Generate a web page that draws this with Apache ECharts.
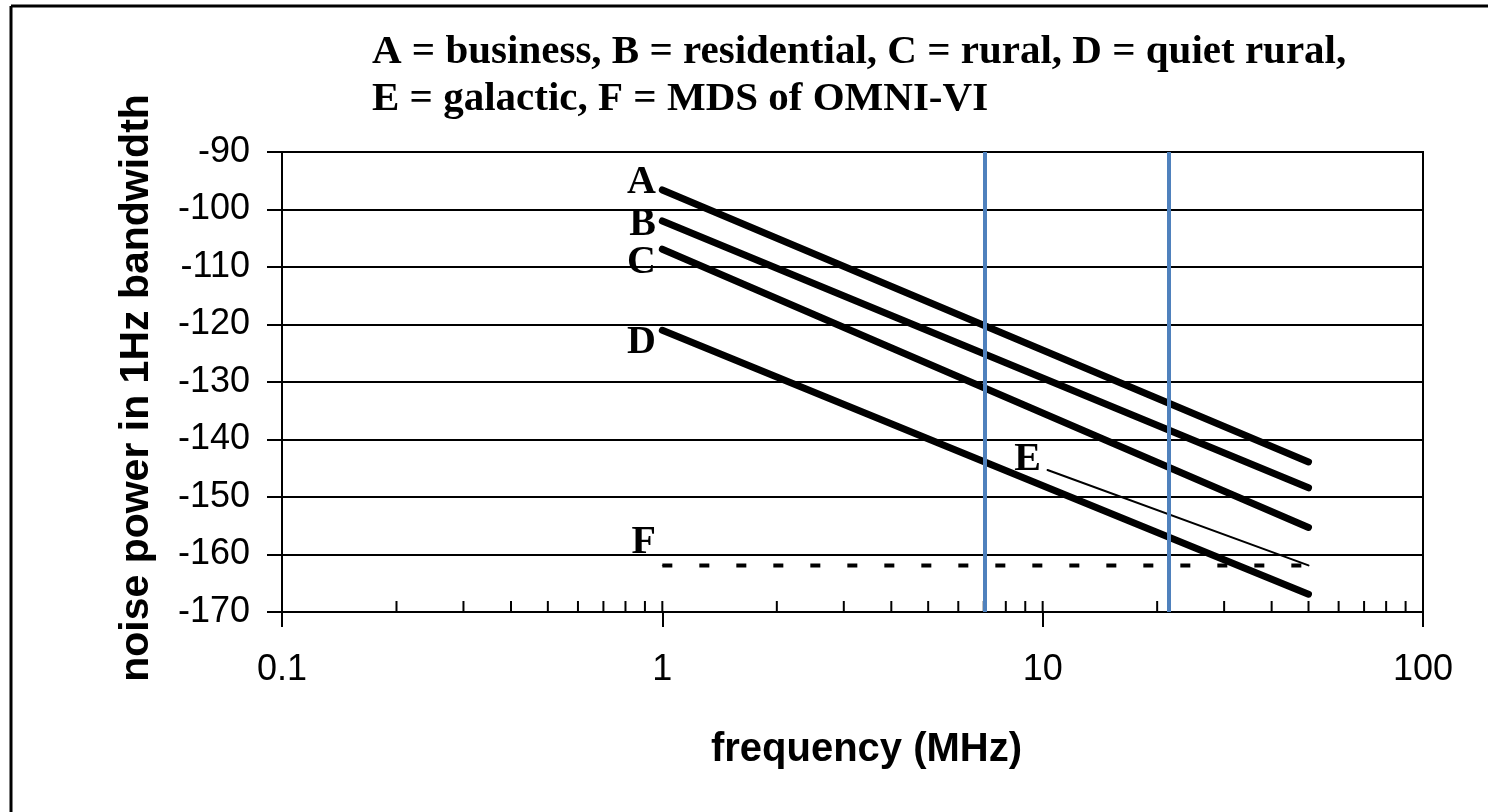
<!DOCTYPE html>
<html>
<head>
<meta charset="utf-8">
<script src="https://cdn.jsdelivr.net/npm/echarts@6/dist/echarts.min.js"></script>
<style>
html,body{margin:0;padding:0;background:#fff;}
#chart{width:1488px;height:812px;}
</style>
</head>
<body>
<div id="chart"></div>
<script>
// ---- data ----
const titleLines = ['A = business, B = residential, C = rural, D = quiet rural,', 'E = galactic, F = MDS of OMNI-VI'];
const xTickLabels = ['0.1', '1', '10', '100'];
const yTickLabels = ['-170', '-160', '-150', '-140', '-130', '-120', '-110', '-100', '-90'];
const seriesNames = ['A', 'B', 'C', 'D', 'E', 'F'];
const freqA = [1, 50];
const valA = [-96.6, -143.9];
const freqB = [1, 50];
const valB = [-102.0, -148.4];
const freqC = [1, 50];
const valC = [-106.9, -155.3];
const freqD = [1, 50];
const valD = [-121.0, -166.9];
const freqE = [10.3, 50];
const valE = [-145.3, -161.9];
const freqF = [1, 50];
const valF = [-161.9, -161.9];
const bandFreqs = [7.05, 21.4];
const minorTickFreqs = [0.2,0.3,0.4,0.5,0.6,0.7,0.8,0.9,1,2,3,4,5,6,7,8,9,10,20,30,40,50,60,70,80,90];

const pairs = (xs, ys) => xs.map((x, i) => [x, ys[i]]);

const serifFont = 'Liberation Serif';
const sansFont = 'Liberation Sans';

function curve(name, xs, ys, width, offsetY, type) {
  return {
    name: name,
    type: 'line',
    data: pairs(xs, ys),
    symbol: 'circle',
    symbolSize: 1,
    showSymbol: true,
    itemStyle: { color: '#000' },
    lineStyle: { color: '#000', width: width, type: type || 'solid', cap: type ? 'butt' : 'round' },
    label: {
      show: true,
      position: 'left',
      distance: 6,
      offset: [0, offsetY],
      formatter: p => (p.dataIndex === 0 ? name : ''),
      fontFamily: serifFont,
      fontWeight: 'bold',
      fontSize: 40,
      color: '#000'
    },
    z: 3
  };
}

const chart = echarts.init(document.getElementById('chart'), null, { renderer: 'canvas' });
const yMin = -170, yMax = -90;

chart.setOption({
  animation: false,
  backgroundColor: '#fff',
  title: {
    text: titleLines.join('\n'),
    left: 367,
    top: 24,
    textStyle: { fontFamily: serifFont, fontWeight: 'bold', fontSize: 41, lineHeight: 47, color: '#000' }
  },
  graphic: [
    { type: 'line', shape: { x1: 11, y1: 6, x2: 1488, y2: 6 }, style: { stroke: '#000', lineWidth: 3 } },
    { type: 'line', shape: { x1: 11, y1: 6, x2: 11, y2: 812 }, style: { stroke: '#000', lineWidth: 3 } }
  ],
  grid: { left: 282, right: 65, top: 152, bottom: 200, show: true, borderColor: '#000', borderWidth: 2 },
  xAxis: {
    type: 'log',
    logBase: 10,
    min: 0.1,
    max: 100,
    name: 'frequency (MHz)',
    nameLocation: 'middle',
    nameGap: 118,
    nameTextStyle: { fontFamily: sansFont, fontWeight: 'bold', fontSize: 40, color: '#000', padding: [0, 0, 0, 28] },
    axisLine: { show: true, lineStyle: { color: '#000', width: 2 } },
    axisTick: { show: true, length: 15, lineStyle: { color: '#000', width: 2 } },
    axisLabel: {
      margin: 40, fontFamily: sansFont, fontSize: 36, color: '#000',
      formatter: v => { const s = xTickLabels.find(t => Math.abs(parseFloat(t) - v) < 1e-9 * Math.max(1, v)); return s || ''; }
    },
    splitLine: { show: false },
    minorTick: { show: false }
  },
  yAxis: {
    type: 'value',
    min: yMin,
    max: yMax,
    interval: 10,
    name: 'noise power in 1Hz bandwidth',
    nameLocation: 'middle',
    nameGap: 125,
    nameTextStyle: { fontFamily: sansFont, fontWeight: 'bold', fontSize: 41, color: '#000', padding: [0, 12, 0, 0] },
    axisLine: { show: true, lineStyle: { color: '#000', width: 2 } },
    axisTick: { show: true, length: 15, lineStyle: { color: '#000', width: 2 } },
    axisLabel: {
      margin: 32, fontFamily: sansFont, fontSize: 36, color: '#000',
      formatter: v => yTickLabels.find(t => parseFloat(t) === v) || ''
    },
    splitLine: { show: true, lineStyle: { color: '#000', width: 2 } }
  },
  series: [
    curve('A', freqA, valA, 7, -7),
    curve('B', freqB, valB, 7, 4),
    curve('C', freqC, valC, 7, 13),
    curve('D', freqD, valD, 7, 12),
    curve('E', freqE, valE, 2, -10),
    curve('F', freqF, valF, 4, -23, [10, 27]),
    {
      name: 'minor ticks',
      type: 'custom',
      data: minorTickFreqs.map(f => [f, yMin]),
      encode: { x: 0, y: 1 },
      renderItem: (params, api) => {
        const p = api.coord([api.value(0), api.value(1)]);
        return { type: 'line', shape: { x1: p[0], y1: p[1], x2: p[0], y2: p[1] - 11 }, style: { stroke: '#000', lineWidth: 2 } };
      },
      silent: true,
      z: 2
    },
    {
      name: 'bands',
      type: 'line',
      data: [],
      markLine: {
        silent: true,
        symbol: ['none', 'none'],
        label: { show: false },
        lineStyle: { color: '#4f81bd', width: 4, type: 'solid' },
        data: bandFreqs.map(f => ({ xAxis: f }))
      },
      z: 10
    }
  ]
});
</script>
</body>
</html>
